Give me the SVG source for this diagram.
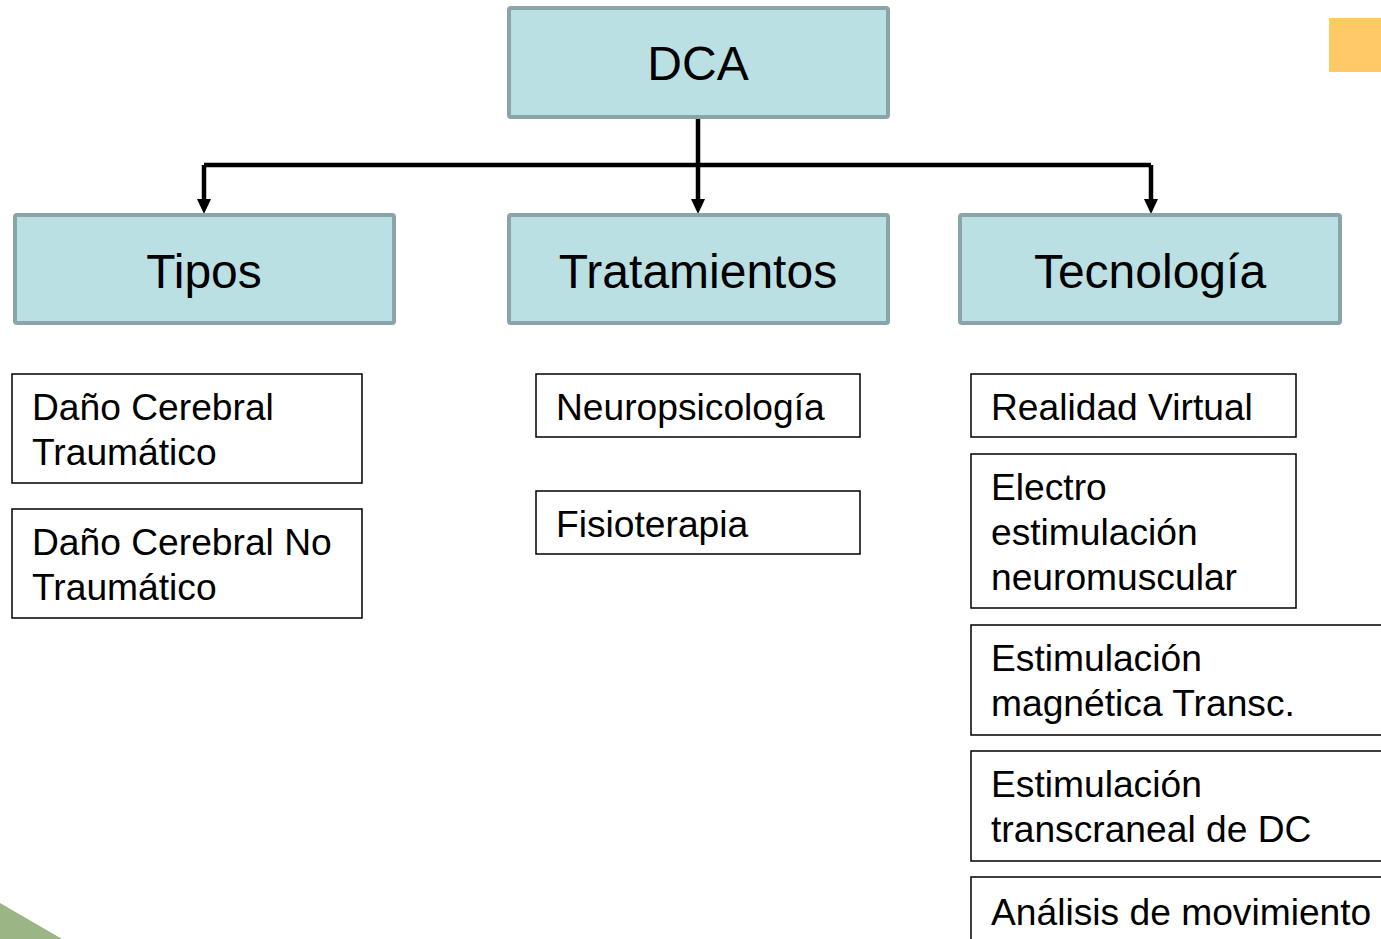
<svg xmlns="http://www.w3.org/2000/svg" width="1381" height="939" viewBox="0 0 1381 939">
<style>
.main{fill:#BBE0E3;stroke:#8AA5A7;stroke-width:4}
.sub{fill:#FFFFFF;stroke:#000000;stroke-width:1.5}
.big{font-family:"Liberation Sans",Arial,sans-serif;font-size:48px;fill:#000;text-anchor:middle}
.small{font-family:"Liberation Sans",Arial,sans-serif;font-size:37.2px;fill:#000}
.conn{fill:none;stroke:#000;stroke-width:4.5}
</style>
<rect width="1381" height="939" fill="#FFFFFF"/>
<rect x="1329" y="18" width="52" height="54" fill="#FFC966"/>
<polygon points="0,903 0,939 62,939" fill="#9BB585"/>
<g id="connectors">
<path class="conn" d="M698,117 V165"/>
<path class="conn" d="M204,165 H1151"/>
<path class="conn" d="M204,165 V200"/>
<path class="conn" d="M698,165 V200"/>
<path class="conn" d="M1151,165 V200"/>
<path d="M197,199 L211,199 L204,214 Z" fill="#000"/>
<path d="M691,199 L705,199 L698,214 Z" fill="#000"/>
<path d="M1144,199 L1158,199 L1151,214 Z" fill="#000"/>
</g>
<g id="dca"><rect class="main" x="509" y="8" width="379" height="109" rx="2"/><text class="big" x="698" y="80">DCA</text></g>
<g id="tipos"><rect class="main" x="15" y="215" width="379" height="108" rx="2"/><text class="big" x="204" y="288">Tipos</text></g>
<g id="tratamientos"><rect class="main" x="509" y="215" width="379" height="108" rx="2"/><text class="big" x="698" y="288">Tratamientos</text></g>
<g id="tecnologia"><rect class="main" x="960" y="215" width="380" height="108" rx="2"/><text class="big" x="1150" y="288">Tecnología</text></g>
<g id="dct"><rect class="sub" x="12" y="374" width="350" height="109"/><text class="small" x="32" y="420">Daño Cerebral</text><text class="small" x="32" y="465">Traumático</text></g>
<g id="dcnt"><rect class="sub" x="12" y="509" width="350" height="109"/><text class="small" x="32" y="555">Daño Cerebral No</text><text class="small" x="32" y="600">Traumático</text></g>
<g id="neuro"><rect class="sub" x="536" y="374" width="324" height="63"/><text class="small" x="556" y="420">Neuropsicología</text></g>
<g id="fisio"><rect class="sub" x="536" y="491" width="324" height="63"/><text class="small" x="556" y="537">Fisioterapia</text></g>
<g id="rv"><rect class="sub" x="971" y="374" width="325" height="63"/><text class="small" x="991" y="420">Realidad Virtual</text></g>
<g id="electro"><rect class="sub" x="971" y="454" width="325" height="154"/><text class="small" x="991" y="500">Electro</text><text class="small" x="991" y="545">estimulación</text><text class="small" x="991" y="590">neuromuscular</text></g>
<g id="emt"><rect class="sub" x="971" y="625" width="420" height="110"/><text class="small" x="991" y="671">Estimulación</text><text class="small" x="991" y="716">magnética Transc.</text></g>
<g id="etdc"><rect class="sub" x="971" y="751" width="420" height="110"/><text class="small" x="991" y="797">Estimulación</text><text class="small" x="991" y="842">transcraneal de DC</text></g>
<g id="analisis"><rect class="sub" x="971" y="877" width="420" height="110"/><text class="small" x="991" y="925">Análisis de movimiento</text></g>
</svg>
